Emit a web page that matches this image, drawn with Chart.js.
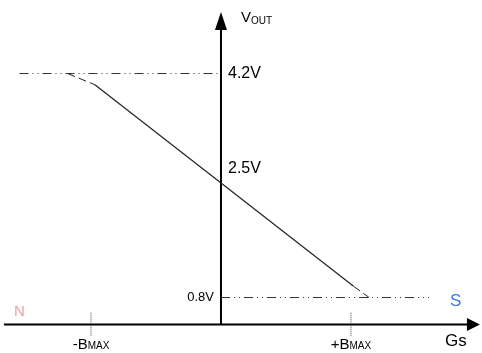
<!DOCTYPE html>
<html>
<head>
<meta charset="utf-8">
<script src="https://cdn.jsdelivr.net/npm/chart.js@4.4.1/dist/chart.umd.min.js"></script>
<style>
  html, body { margin: 0; padding: 0; background: #fff; }
  #wrap { width: 482px; height: 353px; }
</style>
</head>
<body>
<div id="wrap"><canvas id="hallChart" width="482" height="353"></canvas></div>
<script>
// output levels (V) and their labels
const levelValues = [4.2, 2.5, 0.8];
const levelLabels = ['4.2V', '2.5V', '0.8V'];

// field strength (arbitrary units, BMAX = 100)
const bMax = 100;
const tickValues = [-bMax, bMax];
const tickLabels = ['-B', '+B'];

// transfer curve, linear region
const linearX = [-97, 102];
const linearY = [4.03, 0.97];

// soft knees (dashed)
const kneeTopX = [-118, -97];
const kneeTopY = [4.2, 4.03];
const kneeBotX = [102, 114];
const kneeBotY = [0.97, 0.8];

// saturation levels (dash-dot)
const satTopX = [-155, 0];
const satBotX = [0, 160];

// axes
const axisY = 0.39;
const axisXRange = [-167, 190];
const axisYRange = [0.39, 4.875];

const toPts = (xs, ys) => xs.map((x, i) => ({ x: x, y: ys[i] }));
const dashDot = [9, 4, 1, 4, 1, 4];

const lineSet = (data, opts) => Object.assign({
  data: data,
  showLine: true,
  pointRadius: 0,
  borderColor: '#222',
  borderWidth: 1,
  fill: false,
  tension: 0
}, opts);

// draws arrow heads + text labels using the chart scales
const labelPlugin = {
  id: 'labelPlugin',
  afterDatasetsDraw(chart) {
    const ctx = chart.ctx;
    const xs = chart.scales.x;
    const ys = chart.scales.y;
    const px = v => xs.getPixelForValue(v);
    const py = v => ys.getPixelForValue(v);
    ctx.save();
    ctx.fillStyle = '#000';

    // arrow heads
    let ax = px(axisXRange[1]), ay = py(axisY);
    ctx.beginPath();
    ctx.moveTo(ax + 12, ay);
    ctx.lineTo(ax - 1, ay - 6.5);
    ctx.lineTo(ax - 1, ay + 6.5);
    ctx.closePath();
    ctx.fill();
    ax = px(0); ay = py(axisYRange[1]);
    ctx.beginPath();
    ctx.moveTo(ax, ay - 17);
    ctx.lineTo(ax - 6, ay + 1);
    ctx.lineTo(ax + 6, ay + 1);
    ctx.closePath();
    ctx.fill();

    ctx.font = '16px "Liberation Sans", Arial, sans-serif';
    ctx.textBaseline = 'middle';
    ctx.textAlign = 'left';
    ctx.fillText(levelLabels[0], px(0) + 7, py(levelValues[0]));
    ctx.fillText(levelLabels[1], px(0) + 7, py(levelValues[1]) - 17);
    ctx.font = '13px "Liberation Sans", Arial, sans-serif';
    ctx.textAlign = 'right';
    ctx.fillText(levelLabels[2], px(0) - 7, py(levelValues[2]));

    // V OUT
    ctx.textAlign = 'left';
    ctx.textBaseline = 'alphabetic';
    ctx.font = '15px "Liberation Sans", Arial, sans-serif';
    ctx.fillText('V', px(0) + 20, 22);
    ctx.font = '10px "Liberation Sans", Arial, sans-serif';
    ctx.fillText('OUT', px(0) + 30, 24);

    // B max labels
    tickValues.forEach((v, i) => {
      ctx.font = '15px "Liberation Sans", Arial, sans-serif';
      const w1 = ctx.measureText(tickLabels[i]).width;
      ctx.font = '10px "Liberation Sans", Arial, sans-serif';
      const w2 = ctx.measureText('MAX').width;
      const x0 = px(v) - (w1 + w2) / 2;
      ctx.font = '15px "Liberation Sans", Arial, sans-serif';
      ctx.fillText(tickLabels[i], x0, 349);
      ctx.font = '10px "Liberation Sans", Arial, sans-serif';
      ctx.fillText('MAX', x0 + w1, 349);
    });

    ctx.font = '17px "Liberation Sans", Arial, sans-serif';
    ctx.fillText('Gs', 445, 346);

    ctx.fillStyle = '#e8a3a3';
    ctx.font = '15px "Liberation Sans", Arial, sans-serif';
    ctx.fillText('N', 14, 316);
    ctx.fillStyle = '#3d7ad6';
    ctx.font = '17px "Liberation Sans", Arial, sans-serif';
    ctx.fillText('S', 450, 306);
    ctx.restore();
  }
};

new Chart(document.getElementById('hallChart'), {
  type: 'scatter',
  data: {
    datasets: [
      lineSet(toPts(satTopX, [levelValues[0], levelValues[0]]), { borderDash: dashDot, borderColor: '#333' }),
      lineSet(toPts(satBotX, [levelValues[2], levelValues[2]]), { borderDash: dashDot, borderColor: '#333' }),
      lineSet(toPts(kneeTopX, kneeTopY), { borderDash: [8, 4] }),
      lineSet(toPts(kneeBotX, kneeBotY), { borderDash: [8, 4] }),
      lineSet(toPts(linearX, linearY), { borderWidth: 1.2 }),
      lineSet(toPts([tickValues[0], tickValues[0]], [0.57, 0.22]), { borderDash: [1, 1], borderColor: '#444' }),
      lineSet(toPts([tickValues[1], tickValues[1]], [0.57, 0.22]), { borderDash: [1, 1], borderColor: '#444' }),
      lineSet(toPts(axisXRange, [axisY, axisY]), { borderWidth: 2, borderColor: '#000' }),
      lineSet(toPts([0, 0], axisYRange), { borderWidth: 2, borderColor: '#000' })
    ]
  },
  options: {
    responsive: false,
    animation: false,
    events: [],
    layout: { padding: 0 },
    plugins: { legend: { display: false }, tooltip: { enabled: false } },
    scales: {
      x: { type: 'linear', display: false, min: -170, max: 200.8 },
      y: { type: 'linear', display: false, min: -0.042, max: 5.316 }
    }
  },
  plugins: [labelPlugin]
});
</script>
</body>
</html>
